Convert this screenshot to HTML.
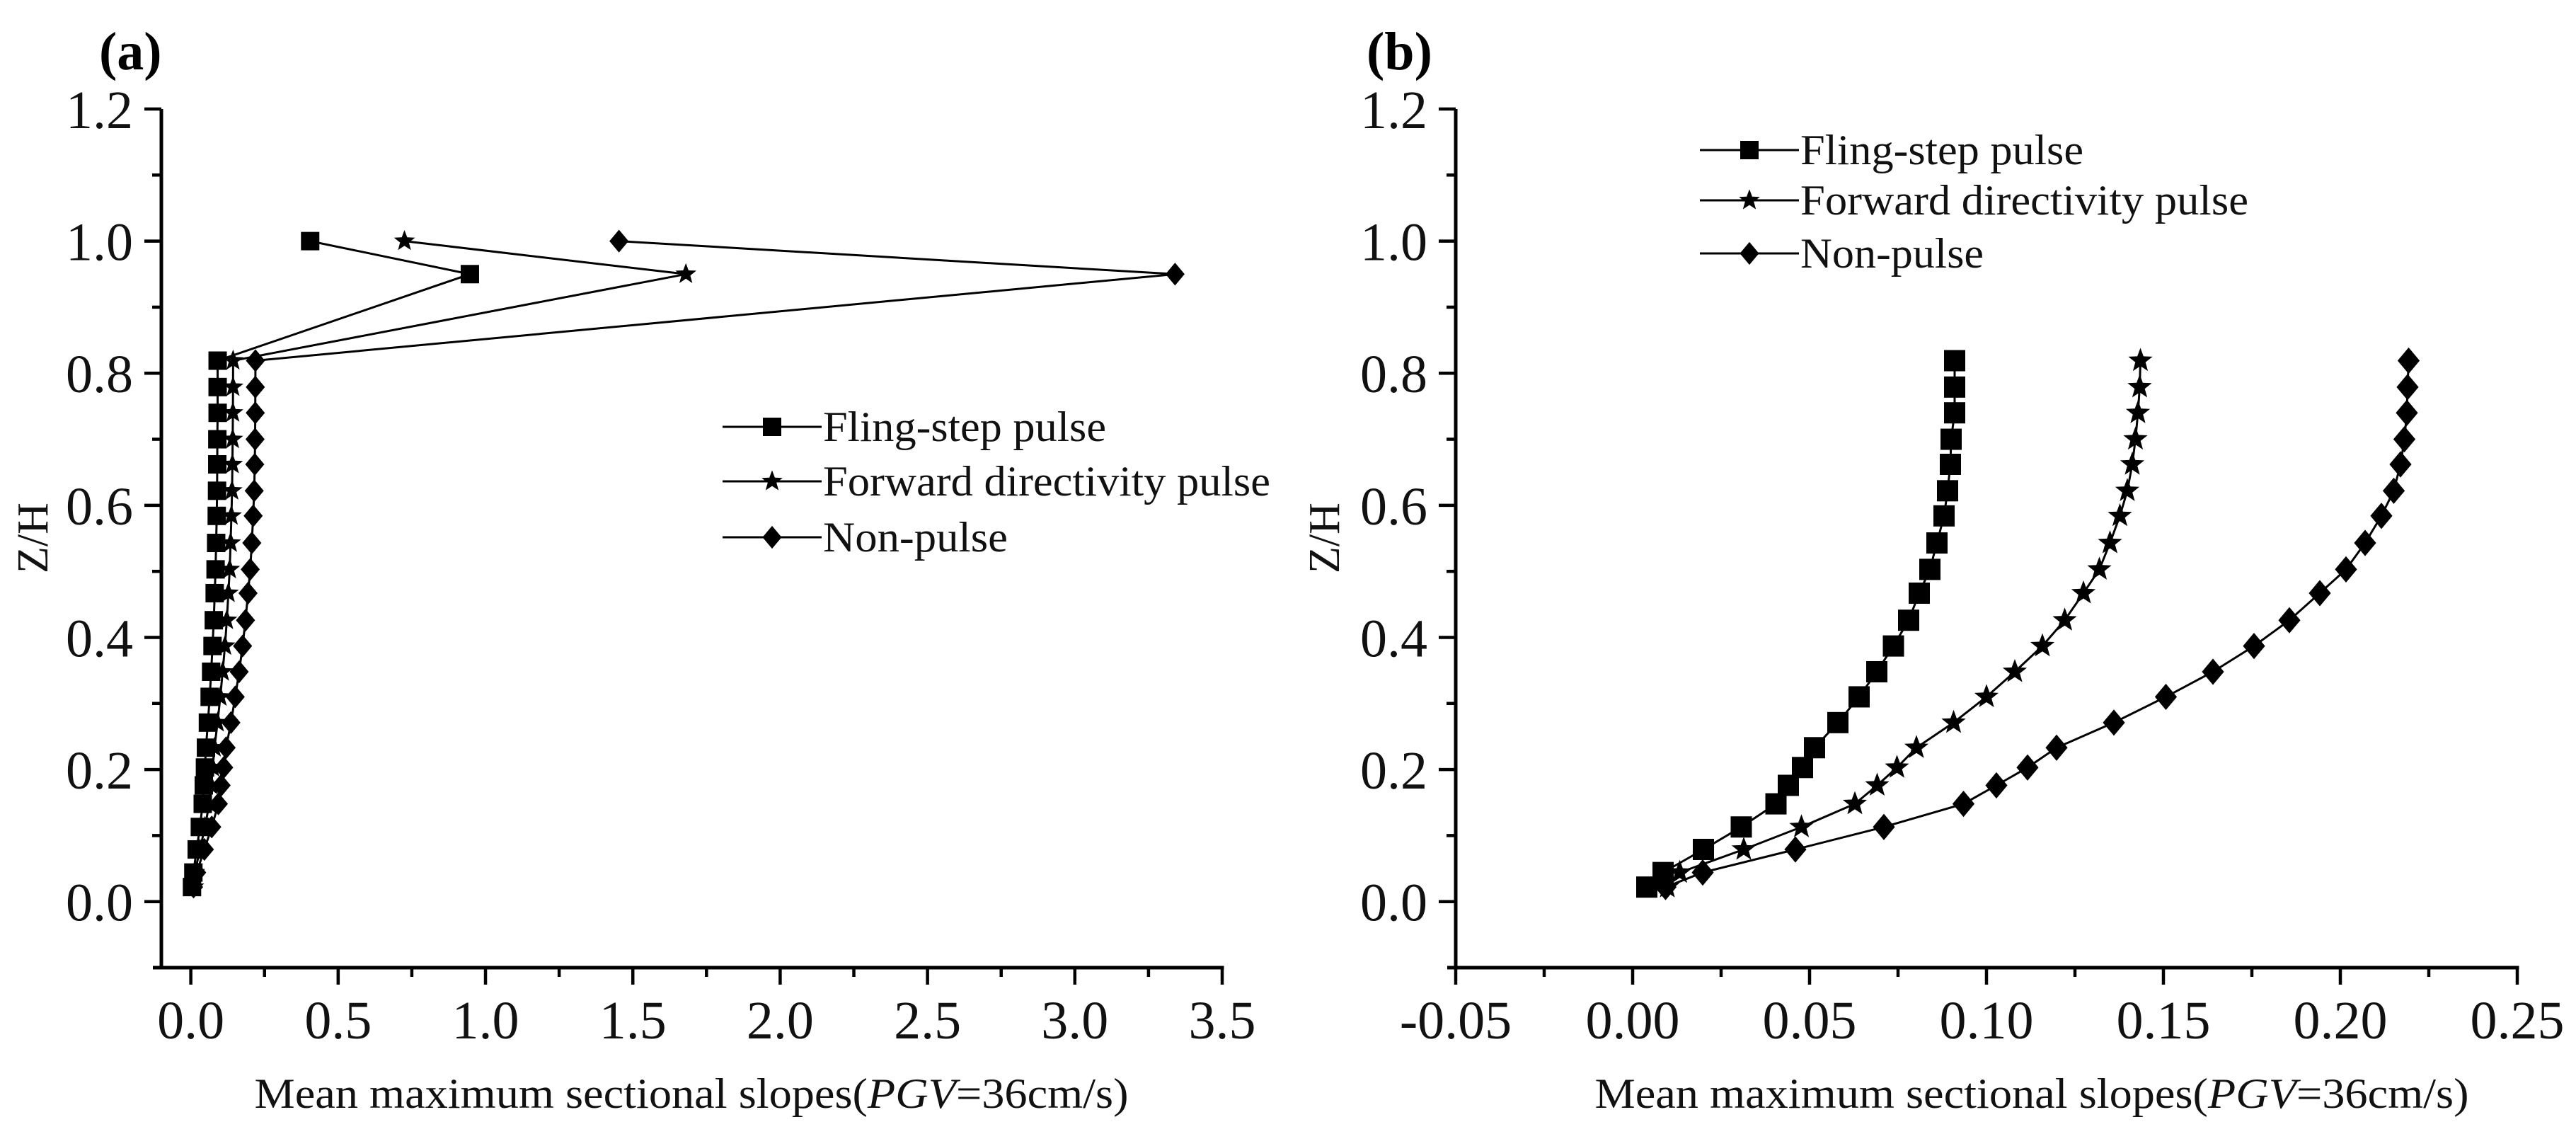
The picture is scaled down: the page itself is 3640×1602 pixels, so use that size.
<!DOCTYPE html>
<html><head><meta charset="utf-8">
<style>
html,body{margin:0;padding:0;background:#fff;}
svg{display:block;font-family:"Liberation Serif",serif;}
</style></head>
<body>
<svg id="chart" width="3640" height="1602" viewBox="0 0 3640 1602" xmlns="http://www.w3.org/2000/svg">
<rect x="0" y="0" width="3640" height="1602" fill="#fff"/>
<g id="pa"></g>
<g id="pb"></g>
</svg>
<script>
// Shared Z/H levels (bottom to top, up to 0.82)
const zLevels = [0.022,0.044,0.079,0.113,0.148,0.176,0.203,0.233,0.271,0.310,0.348,0.387,0.426,0.467,0.503,0.543,0.584,0.622,0.662,0.700,0.740,0.779,0.819];
const zTop = [0.95, 1.0];
// Panel (b) series values
const flingB = [0.004,0.0086,0.020,0.0307,0.0405,0.044,0.048,0.0514,0.058,0.064,0.069,0.0737,0.078,0.081,0.084,0.086,0.088,0.089,0.0898,0.090,0.091,0.091,0.091];
const forwardB = [0.0098,0.0133,0.0314,0.0477,0.0628,0.0691,0.0747,0.0802,0.0907,0.100,0.108,0.1158,0.1221,0.1274,0.1319,0.1349,0.1377,0.1398,0.1412,0.1421,0.1428,0.1433,0.1435];
const nonB = [0.0093,0.0198,0.046,0.071,0.0935,0.1028,0.1116,0.1198,0.136,0.1507,0.164,0.1756,0.1856,0.1942,0.2016,0.207,0.2116,0.2151,0.217,0.2181,0.2188,0.219,0.2193];
// Panel (a) extra top points (Z=0.95, 1.0)
const flingTop = [0.947, 0.405];
const forwardTop = [1.68, 0.725];
const nonTop = [3.34, 1.453];
// Tick labels
const yTicks = ["0.0","0.2","0.4","0.6","0.8","1.0","1.2"];
const xTicksA = ["0.0","0.5","1.0","1.5","2.0","2.5","3.0","3.5"];
const xTicksB = ["-0.05","0.00","0.05","0.10","0.15","0.20","0.25"];
const seriesNames = ["Fling-step pulse","Forward directivity pulse","Non-pulse"];

const NS = "http://www.w3.org/2000/svg";
function mk(parent, tag, attrs, text){
  const e = document.createElementNS(NS, tag);
  for (const k in attrs) e.setAttribute(k, attrs[k]);
  if (text !== undefined) e.textContent = text;
  parent.appendChild(e);
  return e;
}
function marker(g, kind, cx, cy, s){
  let e;
  if (kind === 0) e = mk(g,'rect',{x:cx-s/2,y:cy-s/2,width:s,height:s,fill:'#000'});
  else if (kind === 1){
    const R=s*0.6, r=R*0.42; let p=[];
    for(let i=0;i<10;i++){const a=-Math.PI/2+i*Math.PI/5;const rr=i%2?r:R;p.push((cx+rr*Math.cos(a)).toFixed(1)+','+(cy+rr*Math.sin(a)).toFixed(1));}
    e = mk(g,'polygon',{points:p.join(' '),fill:'#000'});
  } else {
    const h=s*0.62, w=s*0.52;
    e = mk(g,'polygon',{points:`${cx},${cy-h} ${cx+w},${cy} ${cx},${cy+h} ${cx-w},${cy}`,fill:'#000'});
  }
  return e;
}

function panel(gid, cfg){
  const g = document.getElementById(gid);
  const X = v => cfg.x0 + (v - cfg.xmin)/(cfg.xmax-cfg.xmin)*(cfg.x1-cfg.x0);
  const Y = v => cfg.y0 - (v - (-0.1))/(1.3)*(cfg.y0-cfg.y1);
  const yb = Y(-0.1), yt = Y(1.2);
  const ax = mk(g,'line',{x1:cfg.x0,y1:yt,x2:cfg.x0,y2:yb+2.5,stroke:'#000','stroke-width':5});
   
  const bx = mk(g,'line',{x1:cfg.x0-12,y1:yb,x2:cfg.x1+2.5,y2:yb,stroke:'#000','stroke-width':5});
   
  for (let i=0;i<=12;i++){
    const v=i*0.1, y=Y(v), major=i%2===0;
    mk(g,'line',{x1:cfg.x0-(major?24:13),y1:y,x2:cfg.x0,y2:y,stroke:'#000','stroke-width':4.5});
  }
  yTicks.forEach((t,i)=>{
    const e=mk(g,'text',{x:cfg.x0-40,y:Y(i*0.2)+27,'font-size':76,'text-anchor':'end',fill:'#111'},t);
     
  });
  const n = cfg.xt.length-1, step=(cfg.xmax-cfg.tick0)/n;
  for (let i=0;i<=2*n;i++){
    const v=cfg.tick0+i*step/2, x=X(v), major=i%2===0;
    mk(g,'line',{x1:x,y1:yb,x2:x,y2:yb+(major?24:13),stroke:'#000','stroke-width':4.5});
  }
  cfg.xt.forEach((t,i)=>{
    const e=mk(g,'text',{x:X(cfg.tick0+i*step),y:1467,'font-size':76,'text-anchor':'middle',fill:'#111'},t);
     
  });
  const xt=mk(g,'text',{x:cfg.titleX,y:1565,'font-size':60,'text-anchor':'middle',textLength:1235,lengthAdjust:'spacingAndGlyphs',fill:'#111'});
   
  xt.appendChild(document.createTextNode('Mean maximum sectional slopes('));
  mk(xt,'tspan',{'font-style':'italic'},'PGV');
  xt.appendChild(document.createTextNode('=36cm/s)'));
  const yt2=mk(g,'text',{x:cfg.zhX,y:760,'font-size':62,'text-anchor':'middle',transform:`rotate(-90 ${cfg.zhX} 760)`,fill:'#111',dy:20},'Z/H');
   
  const pl=mk(g,'text',{x:cfg.labX,y:98,'font-size':76,'font-weight':'bold',fill:'#000'},cfg.lab);
   
  cfg.series.forEach((s,k)=>{
    const sg=mk(g,'g',{});
    
    
    const pts=s.xs.map((v,i)=>[X(v),Y(s.zs[i])]);
    mk(sg,'polyline',{points:pts.map(p=>p[0].toFixed(1)+','+p[1].toFixed(1)).join(' '),fill:'none',stroke:'#000','stroke-width':3});
    pts.forEach(p=>{
      const m=marker(sg,k,p[0],p[1],cfg.ms);
      
      
    });
  });
  const lg=mk(g,'g',{});
   
  seriesNames.forEach((nm,k)=>{
    const cy=cfg.legY[k];
    const le=mk(lg,'g',{});
     
    mk(le,'line',{x1:cfg.legX,y1:cy,x2:cfg.legX+140,y2:cy,stroke:'#000','stroke-width':3});
    marker(le,k,cfg.legX+70,cy,26);
    mk(le,'text',{x:cfg.legX+142,y:cy+20,'font-size':60,textLength:cfg.legW[k],lengthAdjust:'spacingAndGlyphs',fill:'#111'},nm);
  });
}

const zA = zLevels.concat(zTop);
panel('pa',{x0:228,x1:1727,xmin:-0.1,xmax:3.5,tick0:0,y0:1367,y1:154,xt:xTicksA,titleX:977,zhX:47,labX:140,lab:'(a)',ms:26,
  legX:1021,legY:[603,680,759],legW:[400,632,261],
  series:[{xs:flingB.concat(flingTop),zs:zA},{xs:forwardB.concat(forwardTop),zs:zA},{xs:nonB.concat(nonTop),zs:zA}]});
panel('pb',{x0:2057,x1:3557,xmin:-0.05,xmax:0.25,tick0:-0.05,y0:1367,y1:154,xt:xTicksB,titleX:2871,zhX:1872,labX:1931,lab:'(b)',ms:30,
  legX:2402,legY:[212,283,358],legW:[400,633,259],
  series:[{xs:flingB,zs:zLevels},{xs:forwardB,zs:zLevels},{xs:nonB,zs:zLevels}]});
</script>
</body></html>
